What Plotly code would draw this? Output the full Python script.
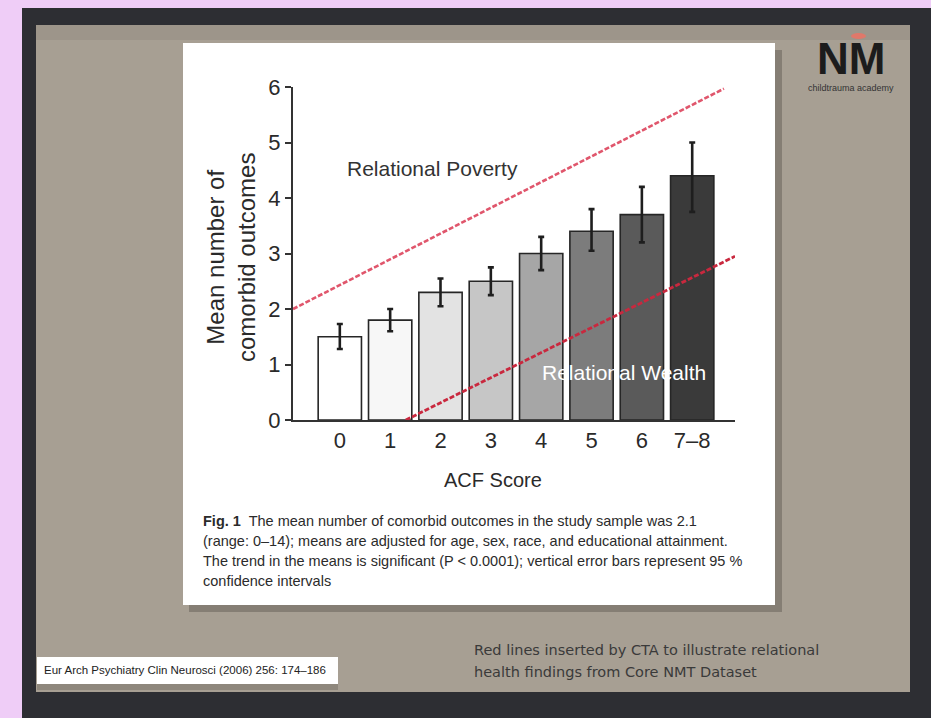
import plotly.graph_objects as go

# ACF score groups and adjusted mean comorbid outcomes
categories = ["0", "1", "2", "3", "4", "5", "6", "7–8"]
means = [1.5, 1.8, 2.3, 2.5, 3.0, 3.4, 3.7, 4.4]
ci_low = [1.28, 1.6, 2.05, 2.25, 2.7, 3.05, 3.2, 3.75]
ci_high = [1.73, 2.0, 2.55, 2.75, 3.3, 3.8, 4.2, 5.0]
bar_colors = ["#ffffff", "#f7f7f7", "#e3e3e3", "#c6c6c6", "#a6a6a6",
              "#7c7c7c", "#5a5a5a", "#3a3a3a"]
y_ticks = [0, 1, 2, 3, 4, 5, 6]

# Relational health trend lines (x in category units)
poverty_x = [-0.93, 7.63]
poverty_y = [2.0, 5.97]
wealth_x = [1.31, 7.85]
wealth_y = [0.0, 2.95]

W_FIG, H_FIG = 931, 718
L, R, T, B = 293, 735, 87, 420  # plot area in pixels
PW, PH = R - L, B - T


def px(x):
    return (x - L) / PW


def py(y):
    return (B - y) / PH


xpos = list(range(len(categories)))
err_plus = [h - m for h, m in zip(ci_high, means)]
err_minus = [m - l for m, l in zip(means, ci_low)]

fig = go.Figure()

fig.add_trace(go.Bar(
    x=xpos, y=means, width=0.86,
    marker=dict(color=bar_colors, line=dict(color="#262626", width=1.6)),
    error_y=dict(type="data", array=err_plus, arrayminus=err_minus,
                 color="#1e1e1e", thickness=2.6, width=3),
    showlegend=False, hoverinfo="skip",
))

fig.add_trace(go.Scatter(
    x=poverty_x, y=poverty_y, mode="lines",
    line=dict(color="#e0566c", width=2.6, dash="5px,2px"),
    showlegend=False, hoverinfo="skip", cliponaxis=False,
))
fig.add_trace(go.Scatter(
    x=wealth_x, y=wealth_y, mode="lines",
    line=dict(color="#c9283e", width=2.8, dash="5px,2px"),
    showlegend=False, hoverinfo="skip", cliponaxis=False,
))

shapes = []


def rect(x0, y0, x1, y1, color, kind="rect"):
    shapes.append(dict(
        type=kind, xref="paper", yref="paper", layer="below",
        x0=px(x0), x1=px(x1), y0=py(y1), y1=py(y0),
        fillcolor=color, line=dict(width=0),
    ))


# slide frame, panel, card with shadow, citation box
rect(22, 8, 931, 718, "#2d2e33")
rect(36, 25, 910, 692, "#a79f93")
rect(36, 25, 910, 40, "#9d958a")
rect(189, 50, 782, 612, "#857e74")
rect(183, 43, 775, 605, "#ffffff")
rect(37, 657, 338, 684, "#ffffff")
rect(37, 684, 338, 690, "#8e877c")
# small red mark over the logo
rect(851, 33, 866, 39, "#e0786a", kind="circle")

fig.update_layout(shapes=shapes)

font_main = "Liberation Sans"
ann = []


def text(x, y, s, size, color="#2a2a2a", xanchor="center", yanchor="middle",
         angle=0, family=font_main, align="left"):
    ann.append(dict(
        x=px(x), y=py(y), xref="paper", yref="paper", text=s, showarrow=False,
        xanchor=xanchor, yanchor=yanchor, textangle=angle, align=align,
        font=dict(size=size, color=color, family=family),
    ))


# axis titles
text(231, 258, "Mean number of<br>comorbid outcomes", 24, color="#2a2a2a",
     angle=-90, align="center")
text(493, 480, "ACF Score", 20)

# in-plot labels
text(345, 168, "Relational Poverty", 21, color="#333333", xanchor="left")
text(540, 372, "Relational Wealth", 21, color="#ffffff", xanchor="left")

# figure caption
caption = [
    "<b>Fig. 1</b>  The mean number of comorbid outcomes in the study sample was 2.1",
    "(range: 0–14); means are adjusted for age, sex, race, and educational attainment.",
    "The trend in the means is significant (P < 0.0001); vertical error bars represent 95 %",
    "confidence intervals",
]
for i, line in enumerate(caption):
    text(201, 521 + i * 20, line, 14.5, color="#2b2b2b", xanchor="left")

# logo
text(851, 58, "<b>NM</b>", 44, color="#1c1c1c")
text(851, 88, "childtrauma academy", 9, color="#333333")

# citation and note
text(42, 670, "Eur Arch Psychiatry Clin Neurosci (2006) 256: 174–186", 11.5,
     color="#222222", xanchor="left")
text(472, 650, "Red lines inserted by CTA to illustrate relational", 14.5,
     color="#3a3a3a", xanchor="left", family="DejaVu Sans")
text(472, 672, "health findings from Core NMT Dataset", 14.5,
     color="#3a3a3a", xanchor="left", family="DejaVu Sans")

fig.update_layout(annotations=ann)

fig.update_layout(
    width=W_FIG, height=H_FIG,
    margin=dict(l=L, r=W_FIG - R, t=T, b=H_FIG - B, pad=0),
    paper_bgcolor="#efcdf7",
    plot_bgcolor="rgba(0,0,0,0)",
    bargap=0.14,
    xaxis=dict(
        range=[-0.93, 7.85], tickmode="array", tickvals=xpos,
        ticktext=categories, showgrid=False, zeroline=False,
        showline=True, linecolor="#333333", linewidth=2, ticks="",
        tickfont=dict(size=22, color="#2a2a2a", family=font_main),
        fixedrange=True,
    ),
    yaxis=dict(
        range=[0, 6], tickmode="array", tickvals=y_ticks,
        showgrid=False, zeroline=False, showline=True,
        linecolor="#333333", linewidth=2, ticks="outside", ticklen=6,
        tickwidth=2, tickcolor="#333333",
        tickfont=dict(size=22, color="#2a2a2a", family=font_main),
        fixedrange=True,
    ),
)

fig.write_html("out.html")
